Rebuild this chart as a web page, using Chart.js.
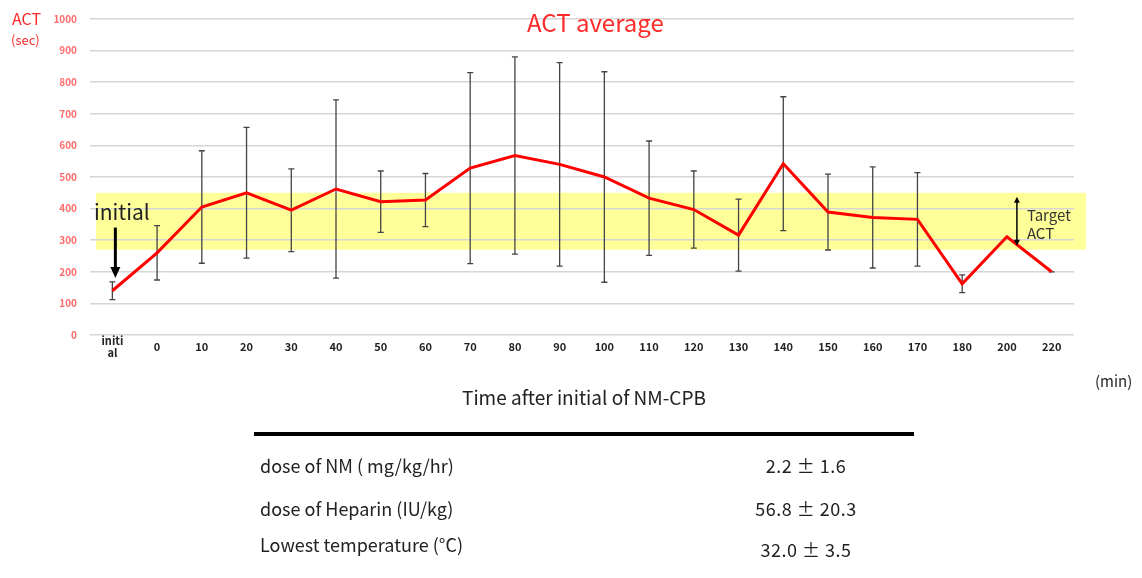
<!DOCTYPE html>
<html>
<head>
<meta charset="utf-8">
<script src="https://cdn.jsdelivr.net/npm/chart.js@4"></script>
<style>
  body { margin: 0; background: #fff; width: 1142px; height: 578px; position: relative; overflow: hidden;
         font-family: "Noto Sans CJK JP", "Noto Sans", sans-serif; }
  #actChart { position: absolute; left: 0; top: 0; }
  .txt { position: absolute; white-space: nowrap; color: #222; line-height: 1; }
  .red { color: #ff2a2a; }
</style>
</head>
<body>
<canvas id="actChart" width="1142" height="578"></canvas>

<div class="txt red" style="left:12px;top:10px;font-size:16px;">ACT</div>
<div class="txt red" style="left:11px;top:33px;font-size:13px;">(sec)</div>
<div class="txt red" style="left:527px;top:10px;font-size:24px;">ACT average</div>
<div class="txt" style="left:462px;top:387px;font-size:19px;">Time after initial of NM-CPB</div>
<div class="txt" style="left:1095px;top:373px;font-size:15px;">(min)</div>
<div style="position:absolute;left:254px;top:432px;width:660px;height:4px;background:#000;"></div>
<div id="table"></div>

<script>
// categories on the x axis
const categories = ['initial', '0', '10', '20', '30', '40', '50', '60', '70', '80', '90', '100',
  '110', '120', '130', '140', '150', '160', '170', '180', '200', '220'];

// ACT mean (sec) and SD for the error bars
const actMean = [140, 260, 405, 450, 395, 462, 422, 427, 528, 568, 540, 500,
  433, 397, 316, 542, 389, 372, 366, 162, 311, 200];
const actSD = [28, 86, 178, 207, 131, 282, 97, 84, 302, 312, 322, 333,
  181, 122, 114, 212, 120, 160, 148, 28, null, 0];

// target ACT band (sec)
const targetLow = 270;
const targetHigh = 450;

// table under the chart
const tableLabels = ['dose of NM ( mg/kg/hr)', 'dose of Heparin (IU/kg)', 'Lowest temperature (°C)'];
const tableValues = ['2.2 ± 1.6', '56.8 ± 20.3', '32.0  ± 3.5'];

// TABLE ROWS
const rowTops = [456, 499, 535];
const valueTops = [456, 499, 540];
const table = document.getElementById('table');
tableLabels.forEach((label, i) => {
  const l = document.createElement('div');
  l.className = 'txt';
  l.style.cssText = `left:260px;top:${rowTops[i]}px;font-size:18px;`;
  l.textContent = label;
  table.appendChild(l);

  const v = document.createElement('div');
  v.className = 'txt';
  v.style.cssText = `left:706px;width:200px;text-align:center;top:${valueTops[i]}px;font-size:18px;letter-spacing:0.5px;`;
  v.textContent = tableValues[i];
  table.appendChild(v);
});

function arrowHead(ctx, x, y, dir, w, h) {
  ctx.beginPath();
  ctx.moveTo(x, y);
  ctx.lineTo(x - w / 2, y - dir * h);
  ctx.lineTo(x + w / 2, y - dir * h);
  ctx.closePath();
  ctx.fill();
}

// yellow target band, under the grid lines
const bandPlugin = {
  id: 'band',
  beforeDraw(chart) {
    const { ctx, chartArea, scales } = chart;
    const yTop = scales.y.getPixelForValue(targetHigh);
    const yBot = scales.y.getPixelForValue(targetLow);
    ctx.save();
    ctx.fillStyle = '#ffff99';
    ctx.fillRect(chartArea.left + 6, yTop, chartArea.right - chartArea.left + 6, yBot - yTop);
    ctx.restore();
  }
};

// SD error bars
const errorBarPlugin = {
  id: 'errorBars',
  beforeDatasetsDraw(chart) {
    const { ctx, scales } = chart;
    ctx.save();
    ctx.strokeStyle = '#444';
    ctx.lineWidth = 1.3;
    actMean.forEach((m, i) => {
      const sd = actSD[i];
      if (sd === null) return;
      const x = scales.x.getPixelForValue(i);
      const yHi = scales.y.getPixelForValue(m + sd);
      const yLo = scales.y.getPixelForValue(m - sd);
      ctx.beginPath();
      ctx.moveTo(x, yHi); ctx.lineTo(x, yLo);
      ctx.moveTo(x - 3, yHi); ctx.lineTo(x + 3, yHi);
      ctx.moveTo(x - 3, yLo); ctx.lineTo(x + 3, yLo);
      ctx.stroke();
    });
    ctx.restore();
  }
};

// "initial" arrow and "Target ACT" arrow
const notesPlugin = {
  id: 'notes',
  afterDatasetsDraw(chart) {
    const { ctx, scales } = chart;
    ctx.save();
    // initial
    const x0 = scales.x.getPixelForValue(0) + 3;
    ctx.fillStyle = '#222';
    ctx.font = '21px "Noto Sans CJK JP", sans-serif';
    ctx.textBaseline = 'alphabetic';
    ctx.fillText('initial', 94, scales.y.getPixelForValue(365));
    ctx.strokeStyle = '#000';
    ctx.fillStyle = '#000';
    ctx.lineWidth = 3;
    ctx.beginPath();
    ctx.moveTo(x0, scales.y.getPixelForValue(340));
    ctx.lineTo(x0, scales.y.getPixelForValue(205));
    ctx.stroke();
    arrowHead(ctx, x0, scales.y.getPixelForValue(180), 1, 10, 11);

    // target ACT
    const xt = scales.x.getPixelForValue(20) + 10;
    const yTop = scales.y.getPixelForValue(targetHigh) + 4;
    const yBot = scales.y.getPixelForValue(targetLow) - 4;
    ctx.lineWidth = 1.5;
    ctx.beginPath();
    ctx.moveTo(xt, yTop + 4); ctx.lineTo(xt, yBot - 4);
    ctx.stroke();
    arrowHead(ctx, xt, yTop, -1, 6, 6);
    arrowHead(ctx, xt, yBot, 1, 6, 6);
    ctx.fillStyle = '#333';
    ctx.font = '15px "Noto Sans CJK JP", sans-serif';
    ctx.textBaseline = 'middle';
    ctx.fillText('Target', xt + 10, scales.y.getPixelForValue(380));
    ctx.fillText('ACT', xt + 10, scales.y.getPixelForValue(322));
    ctx.restore();
  }
};

const ctx = document.getElementById('actChart').getContext('2d');

new Chart(ctx, {
  type: 'line',
  data: {
    labels: categories,
    datasets: [{
      label: 'ACT average',
      data: actMean,
      borderColor: '#ff0000',
      borderWidth: 3,
      pointRadius: 0,
      tension: 0
    }]
  },
  options: {
    responsive: false,
    animation: false,
    layout: { padding: { left: 0, top: 19, right: 68, bottom: 213 } },
    plugins: {
      legend: { display: false },
      tooltip: { enabled: false }
    },
    scales: {
      x: {
        offset: true,
        grid: { display: false, drawTicks: false },
        border: { display: false },
        afterFit(scale) { scale.height = 30; },
        ticks: {
          color: '#222',
          padding: 6,
          crossAlign: 'center',
          maxRotation: 0,
          autoSkip: false,
          font: { family: '"Noto Sans CJK JP", sans-serif', size: 11, weight: 'bold', lineHeight: 1.1 },
          callback: (v, i) => categories[i] === 'initial' ? ['initi', 'al'] : categories[i]
        }
      },
      y: {
        min: 0,
        max: 1000,
        afterFit(scale) { scale.width = 90; },
        grid: { color: '#d6d6d6', lineWidth: 1.5, drawTicks: false },
        border: { display: false },
        ticks: {
          stepSize: 100,
          color: '#ff6a6a',
          padding: 13,
          font: { family: '"Noto Sans CJK JP", sans-serif', size: 10, weight: 'bold' },
          callback: v => String(v)
        }
      }
    }
  },
  plugins: [bandPlugin, errorBarPlugin, notesPlugin]
});
</script>
</body>
</html>
